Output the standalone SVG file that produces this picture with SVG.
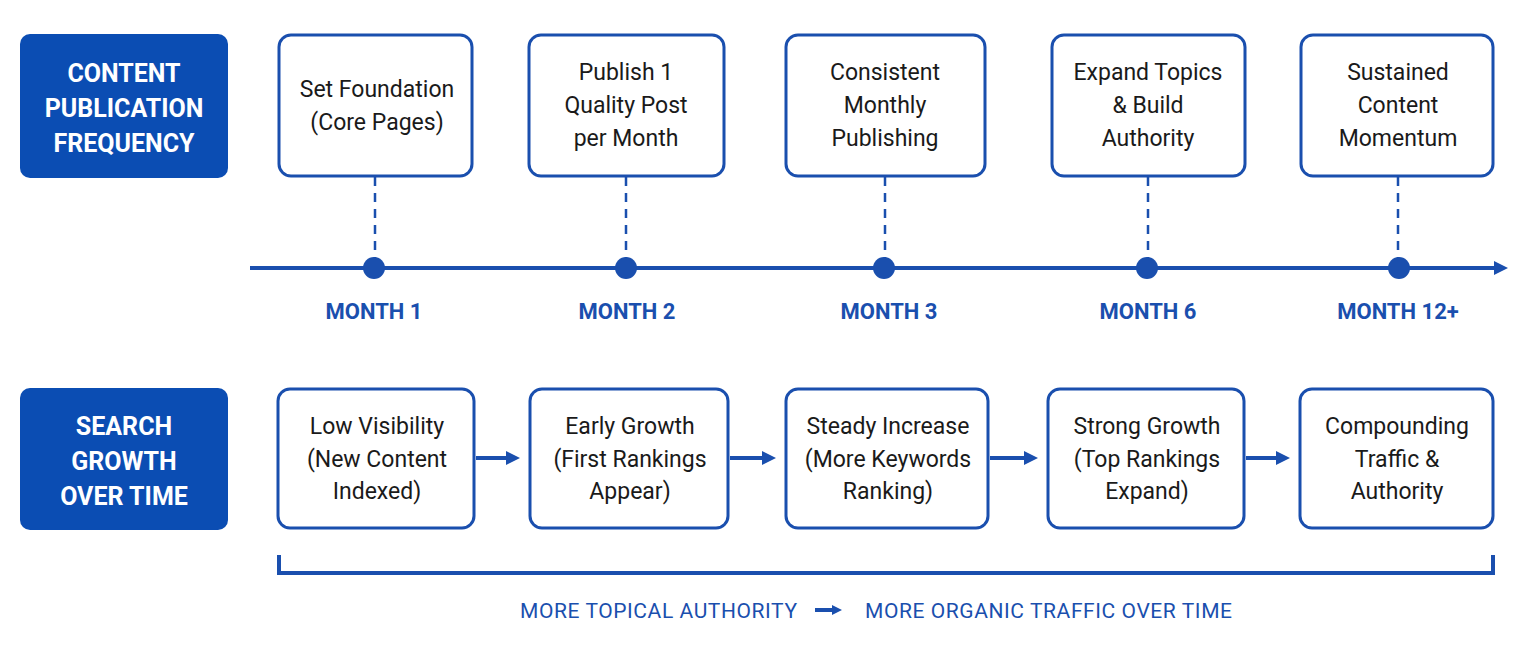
<svg xmlns="http://www.w3.org/2000/svg" width="1535" height="651" viewBox="0 0 1535 651">
<style>
.lab{fill:#0b4db3}
.labt{font-family:Roboto,"Liberation Sans",sans-serif;font-weight:700;font-size:25px;fill:#fff;text-anchor:middle}
.box{fill:#fff;stroke:#1a4fae;stroke-width:3}
.bt{font-family:Roboto,"Liberation Sans",sans-serif;font-size:23px;fill:#1a1a1a;text-anchor:middle}
.mt{font-family:Roboto,"Liberation Sans",sans-serif;font-weight:700;font-size:22px;fill:#1a4fae;text-anchor:middle}
.dash{stroke:#1a4fae;stroke-width:2.5;stroke-dasharray:9 7}
.ln{stroke:#1a4fae;stroke-width:4;fill:none}
.ft{font-family:Roboto,"Liberation Sans",sans-serif;font-size:21px;fill:#1a4fae}
</style>
<defs>
<marker id="ah" markerWidth="10" markerHeight="10" refX="6" refY="5" orient="auto" markerUnits="userSpaceOnUse" viewBox="0 0 10 10"><path d="M0,0 L10,5 L0,10 z" fill="#1a4fae"/></marker>
<marker id="ah2" markerWidth="14" markerHeight="14" refX="8" refY="7" orient="auto" markerUnits="userSpaceOnUse" viewBox="0 0 14 14"><path d="M0,0 L14,7 L0,14 z" fill="#1a4fae"/></marker>
</defs>
<rect width="1535" height="651" fill="#fff"/>
<g id="label-top"><rect class="lab" x="20" y="34" width="208" height="144" rx="10"/>
<text class="labt" x="124" y="82">CONTENT</text><text class="labt" x="124" y="117">PUBLICATION</text><text class="labt" x="124" y="152">FREQUENCY</text></g>
<g id="label-bottom"><rect class="lab" x="20" y="388" width="208" height="142" rx="10"/>
<text class="labt" x="124" y="435">SEARCH</text><text class="labt" x="124" y="470">GROWTH</text><text class="labt" x="124" y="505">OVER TIME</text></g>
<g id="connectors">
<line class="dash" x1="375" y1="177" x2="375" y2="258"/>
<line class="dash" x1="626" y1="177" x2="626" y2="258"/>
<line class="dash" x1="885" y1="177" x2="885" y2="258"/>
<line class="dash" x1="1148" y1="177" x2="1148" y2="258"/>
<line class="dash" x1="1398" y1="177" x2="1398" y2="258"/>
<line class="ln" x1="250" y1="268" x2="1502" y2="268" marker-end="url(#ah2)"/>
<line class="ln" x1="476" y1="458" x2="514" y2="458" marker-end="url(#ah2)"/>
<line class="ln" x1="730" y1="458" x2="770" y2="458" marker-end="url(#ah2)"/>
<line class="ln" x1="990" y1="458" x2="1032" y2="458" marker-end="url(#ah2)"/>
<line class="ln" x1="1246" y1="458" x2="1284" y2="458" marker-end="url(#ah2)"/>
<path class="ln" stroke-width="3" d="M279,555 V573 H1493 V555"/>
<line class="ln" stroke-width="3" x1="815" y1="610" x2="838" y2="610" marker-end="url(#ah)"/>
</g>
<g id="dots" fill="#1a4fae">
<circle cx="374" cy="268" r="11"/><circle cx="626" cy="268" r="11"/><circle cx="884" cy="268" r="11"/><circle cx="1147" cy="268" r="11"/><circle cx="1399" cy="268" r="11"/>
</g>
<g id="months">
<text class="mt" x="374" y="319">MONTH 1</text><text class="mt" x="627" y="319">MONTH 2</text><text class="mt" x="889" y="319">MONTH 3</text><text class="mt" x="1148" y="319">MONTH 6</text><text class="mt" x="1398" y="319">MONTH 12+</text>
</g>
<g id="t1"><rect class="box" x="279" y="35" width="193" height="141" rx="12"/><text class="bt" x="377" y="97">Set Foundation</text><text class="bt" x="377" y="130">(Core Pages)</text></g>
<g id="t2"><rect class="box" x="529" y="35" width="195" height="141" rx="12"/><text class="bt" x="626" y="80">Publish 1</text><text class="bt" x="626" y="113">Quality Post</text><text class="bt" x="626" y="146">per Month</text></g>
<g id="t3"><rect class="box" x="786" y="35" width="199" height="141" rx="12"/><text class="bt" x="885" y="80">Consistent</text><text class="bt" x="885" y="113">Monthly</text><text class="bt" x="885" y="146">Publishing</text></g>
<g id="t4"><rect class="box" x="1052" y="35" width="193" height="141" rx="12"/><text class="bt" x="1148" y="80">Expand Topics</text><text class="bt" x="1148" y="113">&amp; Build</text><text class="bt" x="1148" y="146">Authority</text></g>
<g id="t5"><rect class="box" x="1301" y="35" width="192" height="141" rx="12"/><text class="bt" x="1398" y="80">Sustained</text><text class="bt" x="1398" y="113">Content</text><text class="bt" x="1398" y="146">Momentum</text></g>
<g id="b1"><rect class="box" x="278" y="389" width="196" height="139" rx="12"/><text class="bt" x="377" y="434">Low Visibility</text><text class="bt" x="377" y="467">(New Content</text><text class="bt" x="377" y="499">Indexed)</text></g>
<g id="b2"><rect class="box" x="530" y="389" width="198" height="139" rx="12"/><text class="bt" x="630" y="434">Early Growth</text><text class="bt" x="630" y="467">(First Rankings</text><text class="bt" x="630" y="499">Appear)</text></g>
<g id="b3"><rect class="box" x="786" y="389" width="202" height="139" rx="12"/><text class="bt" x="888" y="434">Steady Increase</text><text class="bt" x="888" y="467">(More Keywords</text><text class="bt" x="888" y="499">Ranking)</text></g>
<g id="b4"><rect class="box" x="1048" y="389" width="196" height="139" rx="12"/><text class="bt" x="1147" y="434">Strong Growth</text><text class="bt" x="1147" y="467">(Top Rankings</text><text class="bt" x="1147" y="499">Expand)</text></g>
<g id="b5"><rect class="box" x="1300" y="389" width="193" height="139" rx="12"/><text class="bt" x="1397" y="434">Compounding</text><text class="bt" x="1397" y="467">Traffic &amp;</text><text class="bt" x="1397" y="499">Authority</text></g>
<g id="footer"><text class="ft" x="520" y="618" textLength="277">MORE TOPICAL AUTHORITY</text><text class="ft" x="865" y="618" textLength="367">MORE ORGANIC TRAFFIC OVER TIME</text></g>
</svg>
